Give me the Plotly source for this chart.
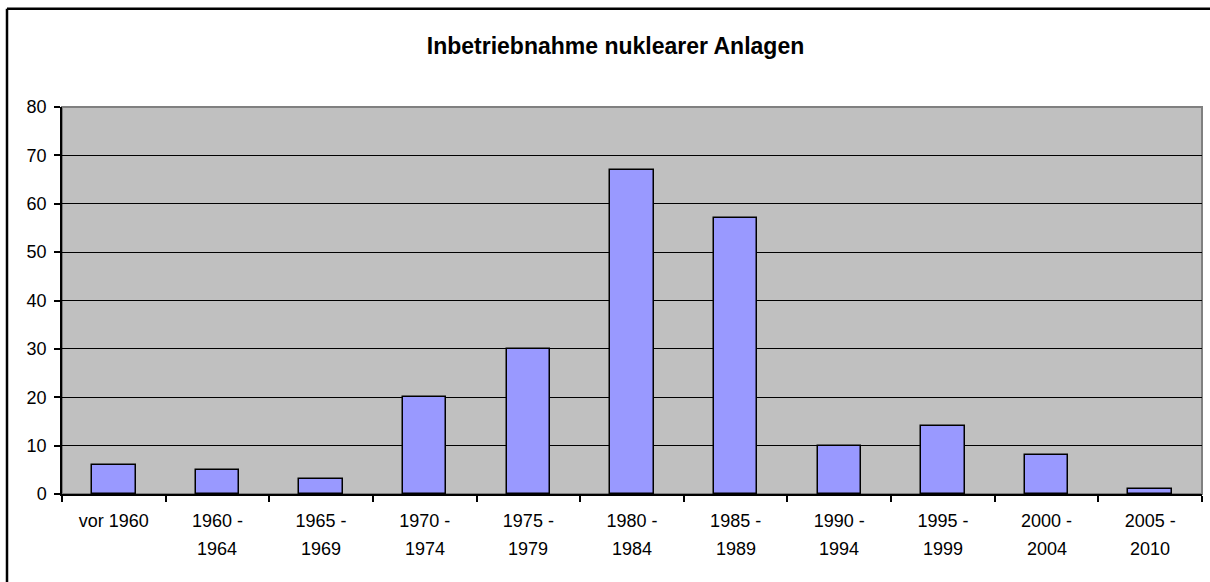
import plotly.graph_objects as go

categories = ["vor 1960", "1960 - 1964", "1965 - 1969", "1970 - 1974", "1975 - 1979",
              "1980 - 1984", "1985 - 1989", "1990 - 1994", "1995 - 1999",
              "2000 - 2004", "2005 - 2010"]
label_line1 = ["vor 1960", "1960 -", "1965 -", "1970 -", "1975 -", "1980 -", "1985 -",
               "1990 -", "1995 -", "2000 -", "2005 -"]
label_line2 = ["", "1964", "1969", "1974", "1979", "1984", "1989", "1994", "1999", "2004", "2010"]
values = [6, 5, 3, 20, 30, 67, 57, 10, 14, 8, 1]
y_ticks = [0, 10, 20, 30, 40, 50, 60, 70, 80]
title_text = "Inbetriebnahme nuklearer Anlagen"

FONT = "Liberation Sans, Arial, sans-serif"

fig = go.Figure()
fig.add_trace(go.Bar(
    x=categories, y=values, width=0.42,
    marker=dict(color="#9999FF", line=dict(color="black", width=1.5)),
))

W, H = 1210, 582
L, R, T, B = 62, 8, 107, 88
fig.update_layout(
    width=W, height=H,
    margin=dict(l=L, r=R, t=T, b=B),
    paper_bgcolor="white", plot_bgcolor="#C0C0C0",
    showlegend=False,
    title=dict(text="<b>" + title_text + "</b>", x=615.5 / W, xanchor="center",
               y=1 - 46 / H, yanchor="middle",
               font=dict(family=FONT, size=23, color="black")),
    font=dict(family=FONT, size=18, color="black"),
    xaxis=dict(showgrid=False, showline=True, linecolor="black", linewidth=1.5,
               ticks="outside", tickson="boundaries", ticklen=6, tickcolor="black", tickwidth=1.5,
               tickvals=categories, ticktext=label_line1, ticklabelstandoff=10,
               tickfont=dict(size=18), range=[-0.5, 10.5]),
    yaxis=dict(range=[0, 80], tickvals=y_ticks, showgrid=True, gridcolor="black", gridwidth=1.2,
               showline=True, linecolor="black", linewidth=1.5, zeroline=False,
               ticks="outside", ticklen=6, tickcolor="black", tickwidth=1.5,
               ticklabelstandoff=4, tickfont=dict(size=18)),
    bargap=0,
)

for cat, l2 in zip(categories, label_line2):
    if l2:
        fig.add_annotation(x=cat, y=0, xref="x", yref="y", text=l2, showarrow=False,
                           yanchor="middle", yshift=-55, font=dict(family=FONT, size=18, color="black"))

pw = W - L - R
ph = H - T - B
# plot-area border (gray top/right)
fig.add_shape(type="rect", xref="paper", yref="paper", x0=0, x1=1, y0=0, y1=1,
              line=dict(color="#808080", width=2), fillcolor="rgba(0,0,0,0)", layer="below")
# outer chart frame: only top and left edges are visible in the crop
fx0 = (7 - L) / pw
fx1 = (W - L) / pw
fy0 = -B / ph
fy1 = (H - B - 8.7) / ph
fig.add_shape(type="line", xref="paper", yref="paper", x0=fx0, x1=fx1, y0=fy1, y1=fy1,
              line=dict(color="black", width=2.5), layer="above")
fig.add_shape(type="line", xref="paper", yref="paper", x0=fx0, x1=fx0, y0=fy0, y1=fy1,
              line=dict(color="black", width=2.5), layer="above")

fig.write_html("out.html", config={"displayModeBar": False},
               post_script="document.body.style.margin='0';document.body.style.overflow='hidden';"
                           "document.documentElement.style.overflow='hidden';")
